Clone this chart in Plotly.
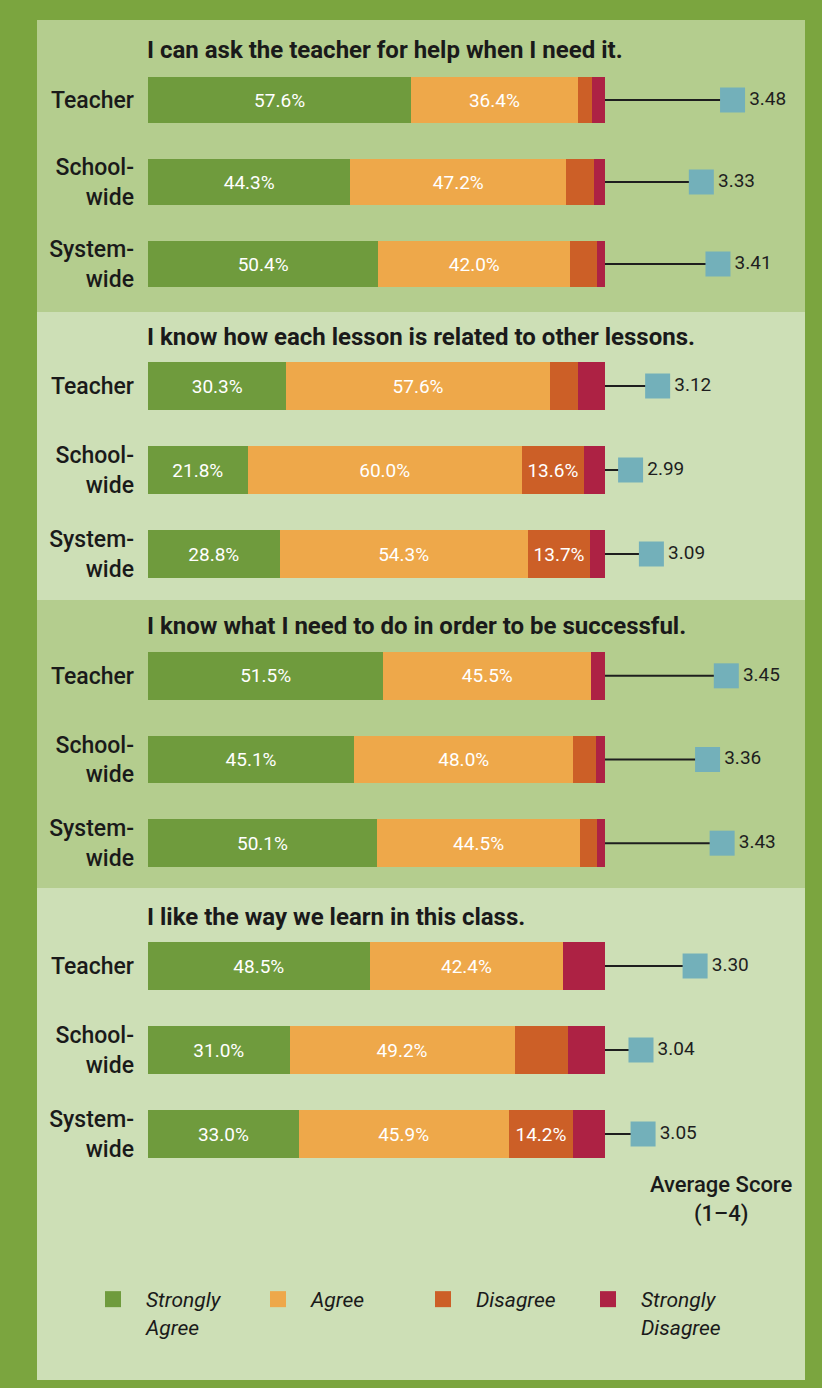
"""Student survey: stacked agreement bars with average score markers"""
import plotly.graph_objects as go

W, H = 822, 1388

# ---- data ----
questions = [
    "I can ask the teacher for help when I need it.",
    "I know how each lesson is related to other lessons.",
    "I know what I need to do in order to be successful.",
    "I like the way we learn in this class.",
]
rows = ["Teacher", "School-wide", "System-wide"]
row_labels = ["Teacher", "School-<br>wide", "System-<br>wide"]

strongly_agree = [[57.6, 44.3, 50.4], [30.3, 21.8, 28.8], [51.5, 45.1, 50.1], [48.5, 31.0, 33.0]]
agree = [[36.4, 47.2, 42.0], [57.6, 60.0, 54.3], [45.5, 48.0, 44.5], [42.4, 49.2, 45.9]]
disagree = [[3.2, 6.0, 5.8], [6.1, 13.6, 13.7], [0.0, 4.9, 3.6], [0.0, 11.8, 14.2]]
strongly_disagree = [[2.8, 2.5, 1.8], [6.0, 4.6, 3.2], [3.0, 2.0, 1.8], [9.1, 8.0, 6.9]]
avg_score = [[3.48, 3.33, 3.41], [3.12, 2.99, 3.09], [3.45, 3.36, 3.43], [3.30, 3.04, 3.05]]

categories = ["Strongly<br>Agree", "Agree", "Disagree", "Strongly<br>Disagree"]
series = [strongly_agree, agree, disagree, strongly_disagree]
colors = ["#6f9b3d", "#eea84a", "#cc5f27", "#ad2244"]

# ---- layout geometry (pixels) ----
BAR_X0, BAR_X1 = 148, 605
SCORE_RANGE = [2.867, 3.910]          # score axis spans from bar end to right edge
panel_domains = [(59, 305), (344, 596), (634, 885), (924, 1176)]
title_y = [50, 337, 626, 917]
panel_bands = [(20, 312, "#b4cd8e"), (312, 600, "#cddfb6"),
               (600, 888, "#b4cd8e"), (888, 1380, "#cddfb6")]


def py(px):
    return 1 - px / H


fig = go.Figure()

for p in range(4):
    yname = "y" if p == 0 else f"y{p + 1}"
    for vals, col, name in zip(series, colors, categories):
        v = vals[p]
        fig.add_trace(go.Bar(
            y=rows, x=v, orientation="h", name=name,
            marker=dict(color=col, line=dict(width=0)),
            text=[f"{x:.1f}%" if x >= 13 else "" for x in v],
            textposition="inside", insidetextanchor="middle",
            textfont=dict(color="white", size=19, family="Roboto"),
            showlegend=False,
            xaxis="x", yaxis=yname, width=0.57, hoverinfo="skip",
        ))
    # connector lines from bar end to the score marker
    for r, s in zip(rows, avg_score[p]):
        fig.add_trace(go.Scatter(
            x=[SCORE_RANGE[0], s], y=[r, r], mode="lines",
            line=dict(color="#1e1e1e", width=2),
            xaxis="x2", yaxis=yname, showlegend=False, hoverinfo="skip",
        ))
    fig.add_trace(go.Scatter(
        x=avg_score[p], y=rows, mode="markers+text",
        marker=dict(symbol="square", size=25, color="#73b0ba"),
        text=[f"{s:.2f}" for s in avg_score[p]], textposition="middle right",
        textfont=dict(size=19, color="#1e1e1e", family="Roboto"),
        xaxis="x2", yaxis=yname, showlegend=False, hoverinfo="skip",
    ))

# legend-only entries so the legend squares are larger than the bar default
for col, name in zip(colors, categories):
    fig.add_trace(go.Scatter(
        x=[None], y=[None], mode="markers", name=name,
        marker=dict(symbol="square", size=16, color=col),
        xaxis="x2", yaxis="y",
    ))

layout_axes = {
    "xaxis": dict(domain=[BAR_X0 / W, BAR_X1 / W], range=[0, 100], visible=False,
                  fixedrange=True),
    "xaxis2": dict(domain=[BAR_X1 / W, 1.0], range=SCORE_RANGE, visible=False,
                   anchor="y", fixedrange=True),
}
for p, (top, bot) in enumerate(panel_domains):
    key = "yaxis" if p == 0 else f"yaxis{p + 1}"
    layout_axes[key] = dict(
        domain=[py(bot), py(top)], type="category", categoryarray=rows,
        autorange="reversed", tickvals=rows, ticktext=row_labels,
        showgrid=False, zeroline=False, showline=False, ticks="",
        ticklabelstandoff=13, anchor="x", fixedrange=True,
        tickfont=dict(size=23, color="#1a1a1a", family="Roboto", weight=500),
    )

shapes = [dict(type="rect", xref="paper", yref="paper", x0=37 / W, x1=805 / W,
               y0=py(b), y1=py(t), fillcolor=c, line=dict(width=0), layer="below")
          for t, b, c in panel_bands]

annotations = [dict(text=q, x=145 / W, y=py(ty), xref="paper", yref="paper",
                    xanchor="left", yanchor="middle", showarrow=False,
                    font=dict(size=24, color="#1a1a1a", family="Roboto", weight=700))
               for q, ty in zip(questions, title_y)]
annotations.append(dict(text="Average Score<br>(1–4)", x=721 / W, y=py(1199),
                        xref="paper", yref="paper", xanchor="center", yanchor="middle",
                        showarrow=False,
                        font=dict(size=22, color="#1a1a1a", family="Roboto", weight=500)))

fig.update_layout(
    width=W, height=H, margin=dict(l=0, r=0, t=0, b=0),
    paper_bgcolor="#7ba53f", plot_bgcolor="rgba(0,0,0,0)",
    barmode="stack", bargap=0.43,
    shapes=shapes, annotations=annotations,
    legend=dict(orientation="h", x=80 / W, y=py(1279), xanchor="left", yanchor="top",
                entrywidth=94, entrywidthmode="pixels", itemwidth=56, valign="top",
                bgcolor="rgba(0,0,0,0)", traceorder="normal",
                font=dict(size=21, color="#1a1a1a", family="Roboto", style="italic")),
    **layout_axes,
)

# drop the default page margin so the figure sits flush in the window
fig.write_html("out.html", config={"displayModeBar": False},
               post_script="document.body.style.margin='0';")
